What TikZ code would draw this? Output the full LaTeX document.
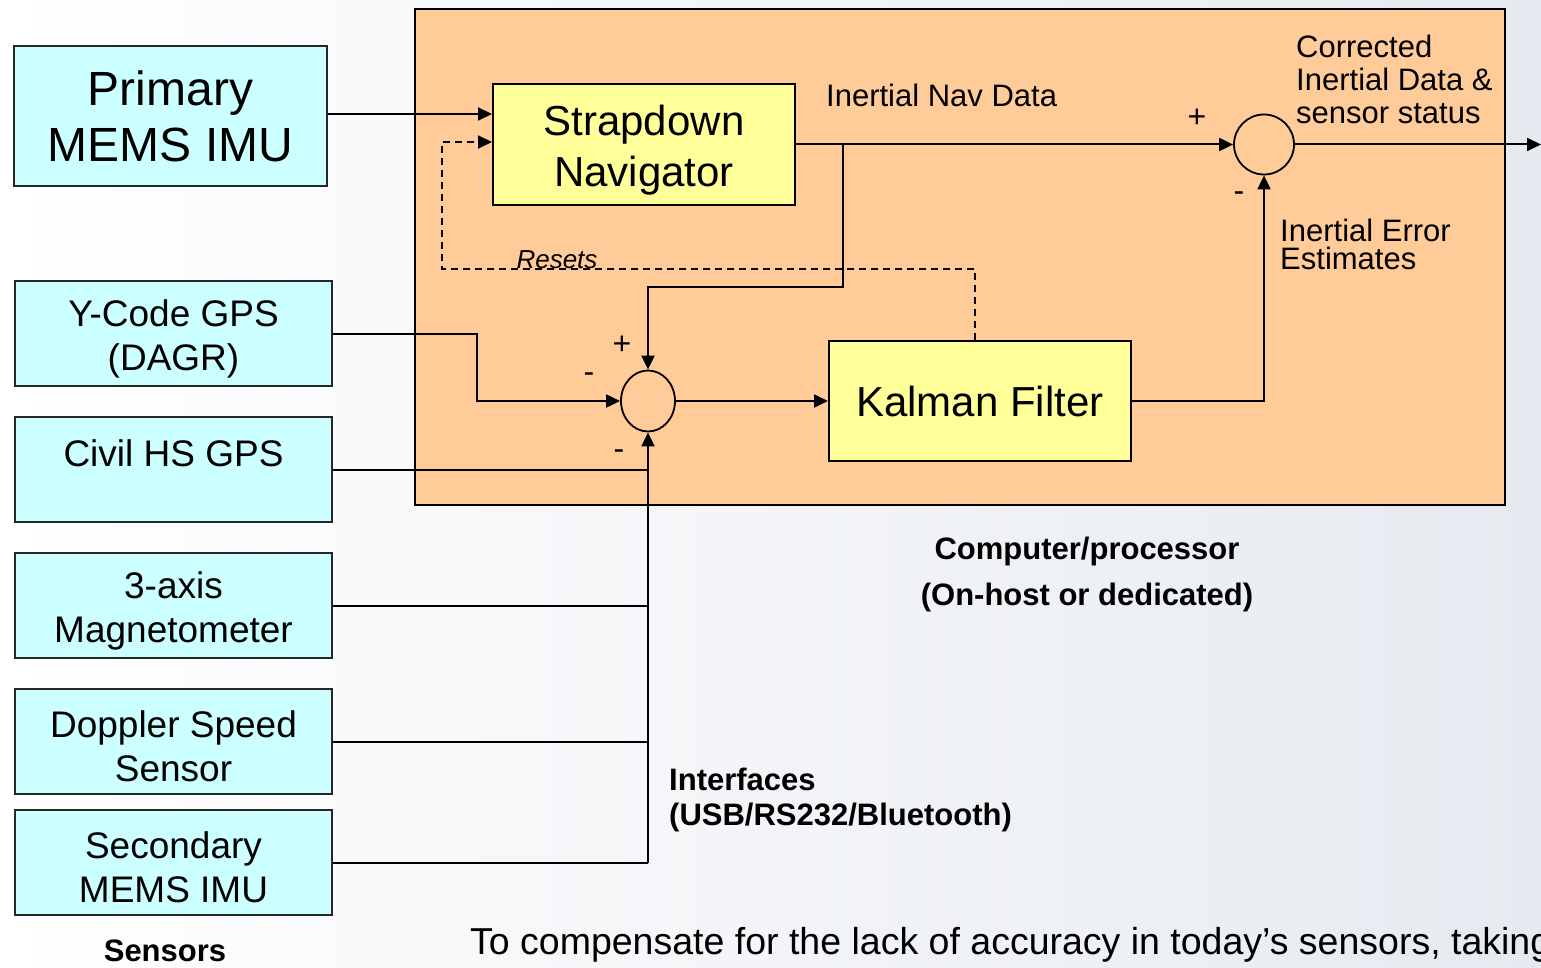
\documentclass[tikz,border=0pt]{standalone}
\usepackage{fontspec}
\setmainfont{Liberation Sans}
\usepackage{tikz}
\usepackage{xcolor}
\usetikzlibrary{calc}
\usetikzlibrary{arrows.meta}
\usetikzlibrary{shapes.geometric}
\definecolor{proccolor}{HTML}{FFCC99}
\definecolor{sensorcolor}{HTML}{CCFFFF}
\definecolor{blockcolor}{HTML}{FFFF99}
\definecolor{bgright}{HTML}{E6EAF0}
\newcommand{\topgap}{\rule{0pt}{37pt}}% lowers the first line a little
\tikzstyle{procbox} = [
    draw=black,
    fill=proccolor,
    line width=2pt,
    rectangle,
    minimum width=1090pt,
    minimum height=496pt
    ]
\tikzstyle{sensorbox} = [
    draw=black!85,
    fill=sensorcolor,
    line width=2pt,
    rectangle,
    minimum width=317pt,
    minimum height=105pt,
    inner sep=0pt,
    align=center,
    font=\fontsize{37}{44}\selectfont
    ]
\tikzstyle{navbox} = [
    draw=black,
    fill=blockcolor,
    line width=2pt,
    rectangle,
    minimum width=302pt,
    minimum height=121pt,
    inner sep=0pt,
    align=center,
    font=\fontsize{42}{51}\selectfont
    ]
\tikzstyle{sumnode} = [draw=black, line width=1.8pt, inner sep=0pt]
\tikzstyle{flow} = [line width=2pt, -{Triangle[length=14pt,width=13pt]}]
\tikzstyle{link} = [line width=2pt]
\tikzstyle{lbl} = [inner sep=0pt, align=left, font=\fontsize{31}{33}\selectfont]
\tikzstyle{sign} = [inner sep=0pt, font=\fontsize{32}{32}\selectfont]
\tikzstyle{caption} = [inner sep=0pt, font=\bfseries\fontsize{31}{46}\selectfont]

\begin{document}
\begin{tikzpicture}[x=1pt,y=-1pt]
\clip (0,0) rectangle (1541,968);
\shade[left color=white, right color=bgright] (0,0) rectangle (1541,968);

% processor
\node[procbox] (proc) at (960,257) {};

% sensors
\node[sensorbox, minimum width=313pt, minimum height=140pt,
      font=\fontsize{48}{56}\selectfont] (prim) at (170.5,116) {Primary\\MEMS IMU};
\node[sensorbox] (ygps) at (173.5,333.5) {\topgap Y-Code GPS\\(DAGR)};
\node[sensorbox] (cgps) at (173.5,469.5) {\topgap Civil HS GPS\\\mbox{}};
\node[sensorbox] (mag) at (173.5,605.5) {\topgap 3-axis\\Magnetometer};
\node[sensorbox] (dop) at (173.5,741.5) {\topgap Doppler Speed\\Sensor};
\node[sensorbox] (sec) at (173.5,862.5) {\topgap Secondary\\MEMS IMU};

% blocks
\node[navbox] (strap) at (644,144.5) {\rule{0pt}{42pt}Strapdown\\Navigator};
\node[navbox, minimum height=120pt] (kf) at (980,401) {Kalman Filter};
\node[sumnode, ellipse, minimum width=54pt, minimum height=61pt] (sum1) at (648,401) {};
\node[sumnode, circle, minimum size=60pt] (sum2) at (1264,144.5) {};

\coordinate (imuin) at ($(strap.west)+(0,-30.5)$);
\coordinate (resetin) at ($(strap.west)+(0,-2.5)$);
\coordinate (tap) at (843,144.5);
\coordinate (out) at (1541,144.5);

% connectors
\draw[flow] (prim.east |- imuin) -- (imuin);
\draw[flow] (strap.east) -- (sum2.west);
\draw[flow] (sum2.east) -- (out);
\draw[flow] (tap) -- ++(0,142.5) -| (sum1.north);
\draw[flow] (ygps.east) -- ++(143.5,0) |- (sum1.west);
\draw[flow] (sum1.east) -- (kf.west);
\draw[flow] (kf.east) -| (sum2.south);
\foreach \s in {cgps,mag,dop,sec}
    \draw[link] (\s.east) -- (\s.east -| sum1.south);
\draw[flow] (sec.east -| sum1.south) -- (sum1.south);
\draw[flow, dash pattern=on 7pt off 5pt]
    ($(kf.north)+(-5,0)$) -- ++(0,-71) -| ($(resetin)+(-50,0)$) -- (resetin);

% labels
\node[lbl, anchor=west] (navdata) at (826,95) {Inertial Nav Data};
\node[lbl, anchor=west] (corr) at (1296,79) {Corrected\\Inertial Data \&\\sensor status};
\node[lbl, anchor=west, font=\fontsize{31}{28}\selectfont] (errest) at (1280,244) {Inertial Error\\Estimates};
\node[inner sep=0pt, font=\itshape\fontsize{26}{26}\selectfont] (resets) at (557,260) {Resets};
\node[sign] (p1) at (622,345) {+};
\node[sign] (m1) at (589,378) {-};
\node[sign] (m2) at (619,455) {-};
\node[sign] (p2) at (1197,118) {+};
\node[sign] (m3) at (1239,197) {-};
\node[caption, align=center] (cpu) at (1087,574) {Computer/processor\\(On-host or dedicated)};
\node[caption, align=left, anchor=west, font=\bfseries\fontsize{31}{35}\selectfont]
    (intf) at (669,800) {Interfaces\\(USB/RS232/Bluetooth)};
\node[caption] (sens) at (165,951) {Sensors};
\node[inner sep=0pt, anchor=west, font=\fontsize{37.5}{37.5}\selectfont]
    (note) at (470,945) {To compensate for the lack of accuracy in today’s sensors, taking};
\end{tikzpicture}
\end{document}
